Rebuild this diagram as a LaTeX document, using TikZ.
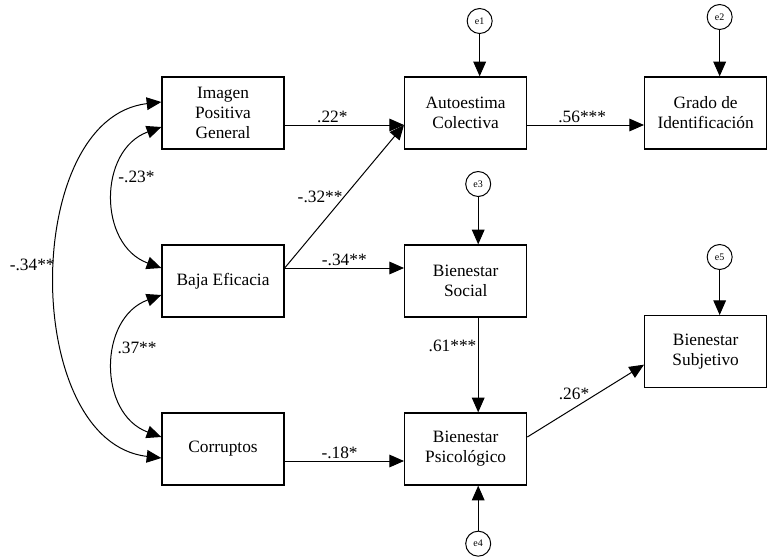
\documentclass[tikz,border=0pt]{standalone}
\usepackage{fontspec}
\setmainfont{Liberation Serif}
\usetikzlibrary{arrows.meta}

\tikzset{
  var/.style = {draw, line width=1pt, minimum width=91.5pt, minimum height=54pt,
    align=center, font=\fontsize{13}{15}\selectfont},
  err/.style = {draw, circle, line width=0.75pt, minimum size=18.75pt, inner sep=0pt,
    font=\fontsize{7.5}{8}\selectfont},
  reg/.style = {line width=0.75pt, -{Triangle[length=11pt, width=9.5pt]}},
  cov/.style = {line width=0.75pt,
    {Triangle[length=11pt, width=9.5pt]}-{Triangle[length=11pt, width=9.5pt]}},
  coef/.style = {font=\fontsize{13}{15}\selectfont, inner sep=1pt}
}

\begin{document}
\begin{tikzpicture}[x=0.75pt, y=-0.75pt, node distance = 126pt]
        \useasboundingbox (0,0) rectangle (767,558);

        \node [var] (IPG) at (223,113) {Imagen\\Positiva\\General};
        \node [var, below of = IPG] (BE) {Baja Eficacia};
        \node [var, below of = BE] (COR) {Corruptos};
        \node [var, right of = IPG, node distance = 182pt] (AC) {Autoestima\\Colectiva};
        \node [var, right of = AC, node distance = 180pt] (GI) {Grado de\\Identificación};
        \node [var, below of = AC] (BS) {Bienestar\\Social};
        \node [var, below of = BS] (BP) {Bienestar\\Psicológico};
        \node [var, below of = GI, node distance = 179pt] (BSU) {Bienestar\\Subjetivo};

        \node [err, above of = AC, node distance = 69pt, xshift=10.5pt] (e1) {e1};
        \node [err, above of = GI, node distance = 72pt, xshift=10.5pt] (e2) {e2};
        \node [err, above of = BS, node distance = 72.75pt, xshift=9.4pt] (e3) {e3};
        \node [err, below of = BP, node distance = 71pt, xshift=9.4pt] (e4) {e4};
        \node [err, above of = BSU, node distance = 71pt, xshift=10.5pt] (e5) {e5};

        \draw [reg] ([yshift=-9pt]IPG.east) -- ([yshift=-9pt]AC.west) node [coef,
        pos=0.4, above] {.22*};
        \draw [reg] ([yshift=-9pt]AC.east) -- ([yshift=-9pt]GI.west) node [coef,
        pos=0.47, above] {.56***};
        \draw [reg] ([yshift=9.75pt]BE.east) -- ([yshift=-9pt]AC.west) node [coef,
        pos=0.5, left] {-.32**};
        \draw [reg] ([yshift=9.75pt]BE.east) -- ([yshift=9.75pt]BS.west) node [coef,
        midway, above] {-.34**};
        \draw [reg] (BS.south -| e3) -- (BP.north -| e3) node [coef, pos=0.3,
        left] {.61***};
        \draw [reg] ([yshift=-9pt]COR.east) -- ([yshift=-9pt]BP.west) node [coef,
        pos=0.46, above] {-.18*};
        \draw [reg] ([yshift=9pt]BP.east) -- ([yshift=-9.75pt]BSU.west) node [coef,
        pos=0.4, above=5pt] {.26*};

        \draw [reg] (e1) -- (e1 |- AC.north);
        \draw [reg] (e2) -- (e2 |- GI.north);
        \draw [reg] (e3) -- (e3 |- BS.north);
        \draw [reg] (e4) -- (e4 |- BP.south);
        \draw [reg] (e5) -- (e5 |- BSU.north);

        \draw [cov] ([yshift=-10.5pt]IPG.west) .. controls (98,150) and (98,245) ..
        ([yshift=9.75pt]BE.west) node [coef, pos=0.38, right] {-.23*};
        \draw [cov] ([yshift=-10.5pt]BE.west) .. controls (98,318) and (98,414) ..
        ([yshift=9pt]COR.west) node [coef, pos=0.4, right] {.37**};
        \draw [cov] ([yshift=8.25pt]IPG.west) .. controls (21,118) and (21,442) ..
        ([yshift=-6.75pt]COR.west) node [coef, pos=0.47, left] {-.34**};
    \end{tikzpicture}
\end{document}
